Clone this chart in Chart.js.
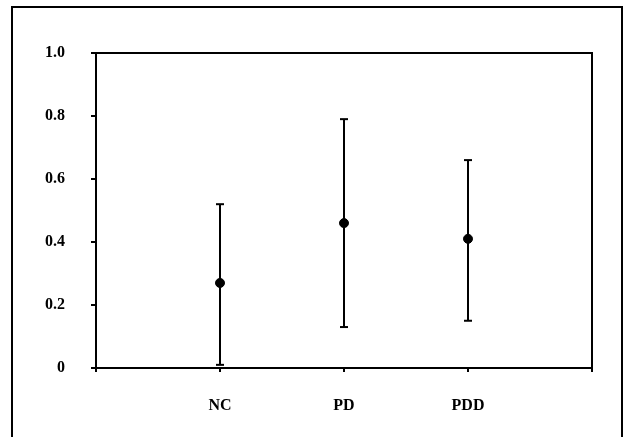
<!DOCTYPE html>
<html>
<head>
<meta charset="utf-8">
<script src="https://cdn.jsdelivr.net/npm/chart.js@4"></script>
<style>
  html, body { margin: 0; padding: 0; background: #fff; overflow: hidden; }
  #wrap { position: relative; width: 625px; height: 437px; }
  #frame {
    position: absolute; left: 11px; top: 6px; width: 608px; height: 460px;
    border: 2px solid #000; border-bottom: none; pointer-events: none;
  }
</style>
</head>
<body>
<div id="wrap">
  <canvas id="chart" width="625" height="437"></canvas>
  <div id="frame"></div>
</div>
<script>
const categories = ['NC', 'PD', 'PDD'];
const means = [0.27, 0.46, 0.41];
const lower = [0.01, 0.13, 0.15];
const upper = [0.52, 0.79, 0.66];

// positions on the x axis: 1, 2, 3 (axis runs 0..4)
const xPos = categories.map((c, i) => i + 1);

const errorSets = categories.map(function (c, i) {
  return {
    label: c + ' range',
    data: [{ x: xPos[i], y: lower[i] }, { x: xPos[i], y: upper[i] }],
    showLine: true,
    borderColor: '#000',
    borderWidth: 2,
    pointStyle: 'line',
    pointRadius: 4,
    pointBorderWidth: 2,
    pointBorderColor: '#000',
    order: 1,
  };
});

const meanSet = {
  label: 'mean',
  data: means.map((m, i) => ({ x: xPos[i], y: m })),
  backgroundColor: '#000',
  borderColor: '#000',
  pointRadius: 4.5,
  order: 0,
};

// box around the plot area
const boxPlugin = {
  id: 'box',
  afterDraw(chart) {
    const a = chart.chartArea;
    const ctx = chart.ctx;
    ctx.save();
    ctx.strokeStyle = '#000';
    ctx.lineWidth = 2;
    ctx.strokeRect(a.left, a.top, a.right - a.left, a.bottom - a.top);
    ctx.restore();
  },
};

const font = { family: "'Liberation Serif', serif", size: 16, weight: 'bold' };

new Chart(document.getElementById('chart').getContext('2d'), {
  type: 'scatter',
  data: { datasets: errorSets.concat([meanSet]) },
  options: {
    responsive: false,
    animation: false,
    layout: { padding: { top: 53, right: 33, left: 0, bottom: 0 } },
    plugins: { legend: { display: false }, tooltip: { enabled: false } },
    scales: {
      x: {
        type: 'linear',
        min: 0,
        max: 4,
        afterFit(scale) { scale.height = 69; },
        ticks: {
          stepSize: 1,
          color: '#000',
          font: font,
          padding: 24,
          callback: (v) => categories[v - 1] || '',
        },
        grid: { drawOnChartArea: false, tickLength: 4, color: '#000', lineWidth: 2 },
        border: { color: '#000', width: 2 },
      },
      y: {
        min: 0,
        max: 1,
        afterFit(scale) { scale.width = 96; },
        ticks: {
          stepSize: 0.2,
          color: '#000',
          font: font,
          padding: 26,
          callback: (v) => (v === 0 ? '0' : v.toFixed(1)),
        },
        grid: { drawOnChartArea: false, tickLength: 5, color: '#000', lineWidth: 2 },
        border: { color: '#000', width: 2 },
      },
    },
  },
  plugins: [boxPlugin],
});
</script>
</body>
</html>
